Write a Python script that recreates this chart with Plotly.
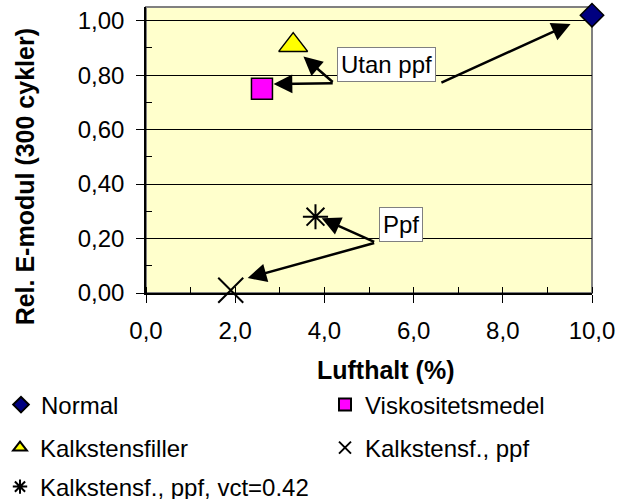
import plotly.graph_objects as go

# data
series_names = ["Normal", "Viskositetsmedel", "Kalkstensfiller",
                "Kalkstensf., ppf", "Kalkstensf., ppf, vct=0.42"]
lufthalt = [10.0, 2.6, 3.3, 1.9, 3.8]
e_modul = [1.02, 0.75, 0.91, 0.01, 0.28]

# marker look
symbols = ["diamond", "square", "triangle-up", "x-thin", "asterisk"]
fills = ["#000080", "#FF00FF", "#FFFF00", "black", "black"]
sizes = [18, 21, 25, 25, 21]

# one legend per entry so the 2-column grid sits where the original has it
# (left px of legend box, centre px of row)
legend_spots = [(1, 405), (325, 405), (-5, 448), (325, 448), (-11, 487)]
legend_ids = ["legend", "legend2", "legend3", "legend4", "legend5"]

FONT = "Liberation Sans, Arial, sans-serif"
W, H = 634, 499

fig = go.Figure()
for i, name in enumerate(series_names):
    thin = symbols[i] in ("x-thin", "asterisk")
    fig.add_trace(go.Scatter(
        x=[lufthalt[i]], y=[e_modul[i]], name=name, mode="markers",
        legend=legend_ids[i], cliponaxis=False,
        marker=dict(symbol=symbols[i], size=sizes[i], color=fills[i],
                    line=dict(color="black", width=2 if thin else 1.5)),
    ))

# arrows: (tail x, tail y, head x, head y)
arrows = [
    (4.22, 0.770, 3.53, 0.868),
    (4.22, 0.770, 2.86, 0.767),
    (6.59, 0.770, 9.52, 0.988),
    (5.15, 0.185, 3.94, 0.274),
    (5.15, 0.185, 2.28, 0.055),
]
annotations = []
for tx, ty, hx, hy in arrows:
    annotations.append(dict(
        x=hx, y=hy, ax=tx, ay=ty, xref="x", yref="y", axref="x", ayref="y",
        text="", showarrow=True, arrowhead=2, arrowsize=1.5, arrowwidth=2.5,
        arrowcolor="black", standoff=0, startstandoff=0))

for label, lx, ly in [("Utan ppf", 5.40, 0.840), ("Ppf", 5.72, 0.253)]:
    annotations.append(dict(
        x=lx, y=ly, xref="x", yref="y", text=label, showarrow=False,
        font=dict(family=FONT, size=24, color="black"),
        bgcolor="white", bordercolor="#808080", borderwidth=1, borderpad=3))

# axis titles
annotations.append(dict(
    x=0.536, y=-0.270, xref="paper", yref="paper", text="<b>Lufthalt (%)</b>",
    xanchor="center", yanchor="middle",
    showarrow=False, font=dict(family=FONT, size=25, color="black")))
annotations.append(dict(
    x=-0.2725, y=0.406, xref="paper", yref="paper", textangle=-90,
    xanchor="center", yanchor="middle",
    text="<b>Rel. E-modul (300 cykler)</b>", showarrow=False,
    font=dict(family=FONT, size=25, color="black")))

legends = {}
for lid, (px, py) in zip(legend_ids, legend_spots):
    legends[lid] = dict(
        orientation="h", xref="container", yref="container",
        x=px / W, y=1 - py / H, xanchor="left", yanchor="middle",
        itemsizing="constant", itemwidth=30,
        font=dict(family=FONT, size=24, color="black"),
        bgcolor="rgba(0,0,0,0)")

fig.update_layout(
    width=W, height=H,
    showlegend=True,
    margin=dict(l=146, r=42, t=7, b=206),
    paper_bgcolor="white", plot_bgcolor="#FFFFCC",
    separators=", ",
    font=dict(family=FONT, size=24, color="black"),
    annotations=annotations,
    shapes=[dict(type="rect", xref="paper", yref="paper", x0=0, y0=0, x1=1, y1=1,
                 line=dict(color="#808080", width=2), layer="below")],
    xaxis=dict(range=[0, 10], dtick=2, tickformat=".1f", showgrid=False,
               zeroline=False, showline=True, linecolor="black", linewidth=1.5,
               ticks="outside", ticklen=8, tickcolor="black",
               ticklabelstandoff=7,
               minor=dict(dtick=1, ticks="inside", ticklen=6, tickcolor="black")),
    yaxis=dict(range=[0, 1.05], dtick=0.2, tickformat=".2f", showgrid=True,
               gridcolor="black", gridwidth=1, zeroline=False, showline=True,
               linecolor="black", linewidth=1.5, ticks="outside", ticklen=8,
               tickcolor="black", ticklabelstandoff=7,
               minor=dict(dtick=0.1, ticks="inside", ticklen=6, tickcolor="black")),
    **legends,
)

# the page body has a default 8px margin; drop it so the chart sits at 0,0
fig.write_html("out.html", config={"displayModeBar": False},
               post_script="document.body.style.margin='0px';")
